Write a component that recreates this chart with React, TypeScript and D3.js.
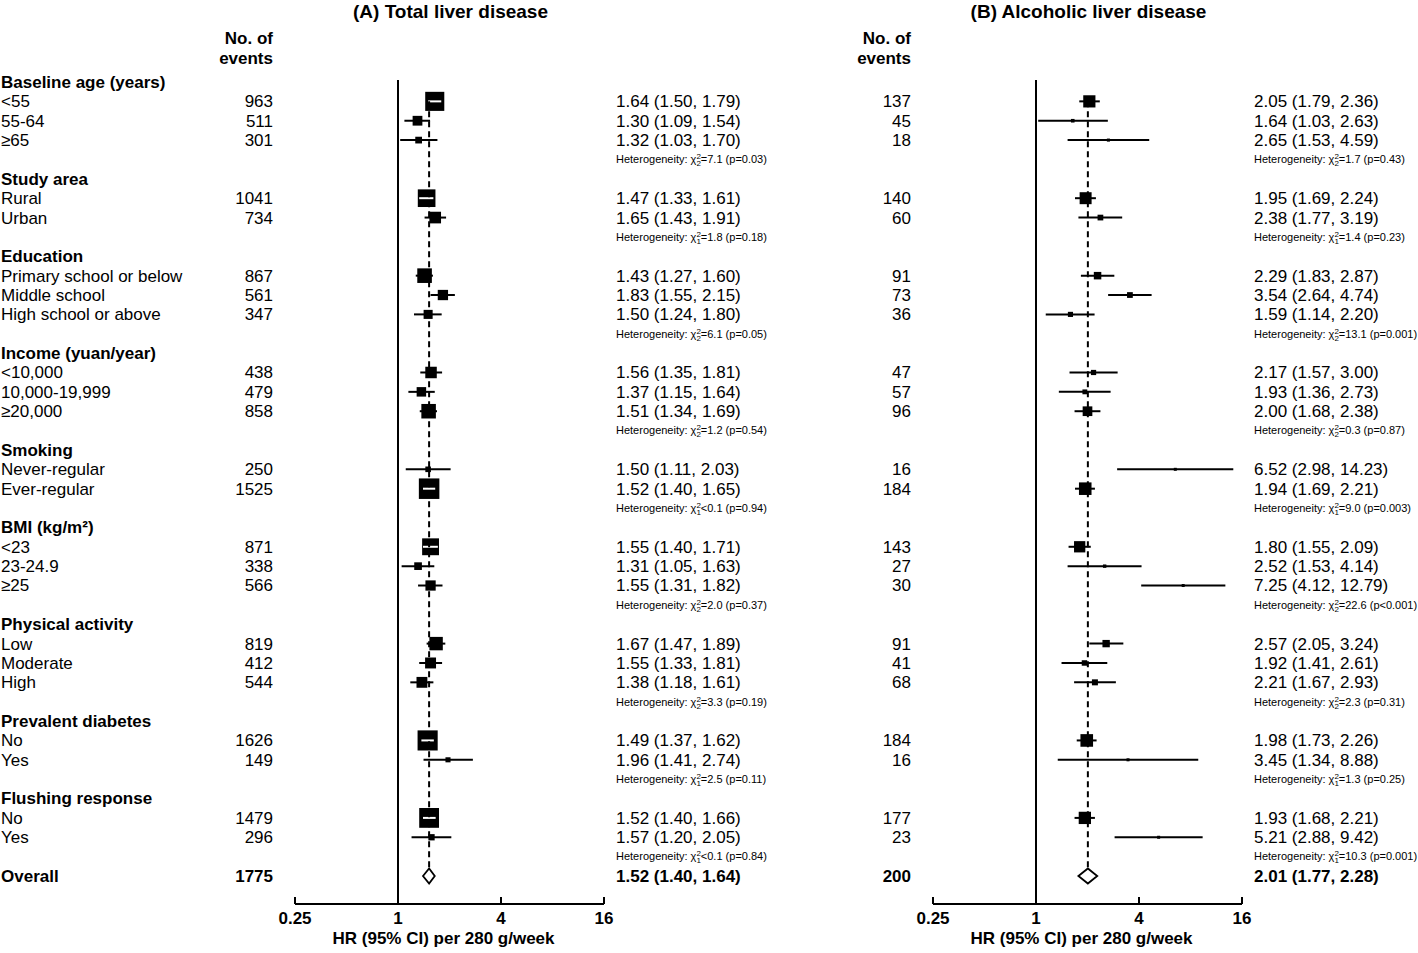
import React from "react";
import * as d3 from "d3";

const groups = [
  "Baseline age (years)",
  "Study area",
  "Education",
  "Income (yuan/year)",
  "Smoking",
  "BMI (kg/m²)",
  "Physical activity",
  "Prevalent diabetes",
  "Flushing response",
];

const subgroups = [
  ["<55", "55-64", "≥65"],
  ["Rural", "Urban"],
  ["Primary school or below", "Middle school", "High school or above"],
  ["<10,000", "10,000-19,999", "≥20,000"],
  ["Never-regular", "Ever-regular"],
  ["<23", "23-24.9", "≥25"],
  ["Low", "Moderate", "High"],
  ["No", "Yes"],
  ["No", "Yes"],
];

// Panel A: total liver disease
const eventsA = [[963, 511, 301], [1041, 734], [867, 561, 347], [438, 479, 858], [250, 1525], [871, 338, 566], [819, 412, 544], [1626, 149], [1479, 296]];
const hrA = [[1.64, 1.30, 1.32], [1.47, 1.65], [1.43, 1.83, 1.50], [1.56, 1.37, 1.51], [1.50, 1.52], [1.55, 1.31, 1.55], [1.67, 1.55, 1.38], [1.49, 1.96], [1.52, 1.57]];
const loA = [[1.50, 1.09, 1.03], [1.33, 1.43], [1.27, 1.55, 1.24], [1.35, 1.15, 1.34], [1.11, 1.40], [1.40, 1.05, 1.31], [1.47, 1.33, 1.18], [1.37, 1.41], [1.40, 1.20]];
const hiA = [[1.79, 1.54, 1.70], [1.61, 1.91], [1.60, 2.15, 1.80], [1.81, 1.64, 1.69], [2.03, 1.65], [1.71, 1.63, 1.82], [1.89, 1.81, 1.61], [1.62, 2.74], [1.66, 2.05]];
const hetDfA = ["2", "1", "2", "2", "1", "2", "2", "1", "1"];
const hetChiA = ["=7.1", "=1.8", "=6.1", "=1.2", "<0.1", "=2.0", "=3.3", "=2.5", "<0.1"];
const hetPA = ["(p=0.03)", "(p=0.18)", "(p=0.05)", "(p=0.54)", "(p=0.94)", "(p=0.37)", "(p=0.19)", "(p=0.11)", "(p=0.84)"];
const overallA = { events: 1775, hr: 1.52, lo: 1.40, hi: 1.64 };

// Panel B: alcoholic liver disease
const eventsB = [[137, 45, 18], [140, 60], [91, 73, 36], [47, 57, 96], [16, 184], [143, 27, 30], [91, 41, 68], [184, 16], [177, 23]];
const hrB = [[2.05, 1.64, 2.65], [1.95, 2.38], [2.29, 3.54, 1.59], [2.17, 1.93, 2.00], [6.52, 1.94], [1.80, 2.52, 7.25], [2.57, 1.92, 2.21], [1.98, 3.45], [1.93, 5.21]];
const loB = [[1.79, 1.03, 1.53], [1.69, 1.77], [1.83, 2.64, 1.14], [1.57, 1.36, 1.68], [2.98, 1.69], [1.55, 1.53, 4.12], [2.05, 1.41, 1.67], [1.73, 1.34], [1.68, 2.88]];
const hiB = [[2.36, 2.63, 4.59], [2.24, 3.19], [2.87, 4.74, 2.20], [3.00, 2.73, 2.38], [14.23, 2.21], [2.09, 4.14, 12.79], [3.24, 2.61, 2.93], [2.26, 8.88], [2.21, 9.42]];
const hetDfB = ["2", "1", "2", "2", "1", "2", "2", "1", "1"];
const hetChiB = ["=1.7", "=1.4", "=13.1", "=0.3", "=9.0", "=22.6", "=2.3", "=1.3", "=10.3"];
const hetPB = ["(p=0.43)", "(p=0.23)", "(p=0.001)", "(p=0.87)", "(p=0.003)", "(p<0.001)", "(p=0.31)", "(p=0.25)", "(p=0.001)"];
const overallB = { events: 200, hr: 2.01, lo: 1.77, hi: 2.28 };

const xTicks = [0.25, 1, 4, 16];
const panelTitles = ["(A) Total liver disease", "(B) Alcoholic liver disease"];
const axisTitle = "HR (95% CI) per 280 g/week";

const FONT = "'Liberation Sans', Arial, Helvetica, sans-serif";
const W = 1418;
const H = 953;

type Row =
  | { kind: "header"; i: number; label: string }
  | { kind: "item"; i: number; g: number; s: number; label: string }
  | { kind: "het"; i: number; g: number }
  | { kind: "overall"; i: number };

function buildRows(): Row[] {
  const rows: Row[] = [];
  let i = 0;
  groups.forEach((gName, g) => {
    rows.push({ kind: "header", i: i++, label: gName });
    subgroups[g].forEach((s, si) => rows.push({ kind: "item", i: i++, g, s: si, label: s }));
    rows.push({ kind: "het", i: i++, g });
  });
  rows.push({ kind: "overall", i: i++ });
  return rows;
}

const fmt = (v: number) => v.toFixed(2);

interface PanelData {
  events: number[][];
  hr: number[][];
  lo: number[][];
  hi: number[][];
  df: string[];
  chi: string[];
  p: string[];
  overall: { events: number; hr: number; lo: number; hi: number };
}

const panels: PanelData[] = [
  { events: eventsA, hr: hrA, lo: loA, hi: hiA, df: hetDfA, chi: hetChiA, p: hetPA, overall: overallA },
  { events: eventsB, hr: hrB, lo: loB, hi: hiB, df: hetDfB, chi: hetChiB, p: hetPB, overall: overallB },
];

const layout = [
  { countX: 273, x0: 295, x1: 604, textX: 616 },
  { countX: 911, x0: 933, x1: 1242, textX: 1254 },
];

export default function App() {
  const rows = buildRows();
  const nRows = rows.length;
  const y = d3.scaleLinear().domain([0, nRows - 1]).range([82, 876]);
  const axisY = 904;

  const renderPanel = (pi: number) => {
    const P = panels[pi];
    const L = layout[pi];
    const x = d3.scaleLog().base(2).domain([0.25, 16]).range([L.x0, L.x1]);
    const firstItemY = y(1);
    const ov = P.overall;
    const ovY = y(nRows - 1);
    const dH = 7.5;
    const els: React.ReactNode[] = [];

    // reference line at 1
    els.push(<line key="ref" x1={x(1)} x2={x(1)} y1={80} y2={axisY} stroke="#000" strokeWidth={2} />);

    rows.forEach((r, k) => {
      const yy = y(r.i);
      if (r.kind === "header" && pi === 0) {
        els.push(
          <text key={"h" + k} x={1} y={yy} dy="0.35em" fontWeight="bold" fontSize={17}>
            {r.label}
          </text>
        );
      }
      if (r.kind === "item") {
        if (pi === 0) {
          els.push(
            <text key={"l" + k} x={1} y={yy} dy="0.35em" fontSize={17}>
              {r.label}
            </text>
          );
        }
        const ev = P.events[r.g][r.s];
        const hr = P.hr[r.g][r.s];
        const lo = P.lo[r.g][r.s];
        const hi = P.hi[r.g][r.s];
        const se = (Math.log(hi) - Math.log(lo)) / (2 * 1.96);
        const size = Math.max(3, 0.86 / se);
        const cx = x(hr);
        const bx0 = cx - size / 2;
        const bx1 = cx + size / 2;
        const lx0 = x(Math.max(lo, 0.25));
        const lx1 = x(Math.min(hi, 16));
        const inside = lx0 >= bx0 && lx1 <= bx1;
        els.push(
          <text key={"c" + k} x={L.countX} y={yy} dy="0.35em" fontSize={17} textAnchor="end">
            {ev}
          </text>
        );
        if (!inside) {
          els.push(<line key={"ci" + k} x1={lx0} x2={lx1} y1={yy} y2={yy} stroke="#000" strokeWidth={2} />);
        }
        els.push(<rect key={"b" + k} x={bx0} y={yy - size / 2} width={size} height={size} fill="#000" />);
        if (inside) {
          els.push(<line key={"w" + k} x1={lx0} x2={lx1} y1={yy} y2={yy} stroke="#fff" strokeWidth={2} />);
        }
        els.push(
          <text key={"t" + k} x={L.textX} y={yy} dy="0.35em" fontSize={17}>
            {`${fmt(hr)} (${fmt(lo)}, ${fmt(hi)})`}
          </text>
        );
      }
      if (r.kind === "het") {
        els.push(
          <text key={"het" + k} x={L.textX} y={yy} dy="0.35em" fontSize={11}>
            {"Heterogeneity: χ"}
            <tspan fontSize={8} dy={-4}>2</tspan>
            <tspan fontSize={8} dx={-4.45} dy={7}>{P.df[r.g]}</tspan>
            <tspan fontSize={11} dy={-3}>{`${P.chi[r.g]} ${P.p[r.g]}`}</tspan>
          </text>
        );
      }
      if (r.kind === "overall") {
        if (pi === 0) {
          els.push(
            <text key="ol" x={1} y={yy} dy="0.35em" fontSize={17} fontWeight="bold">
              Overall
            </text>
          );
        }
        els.push(
          <text key="oc" x={L.countX} y={yy} dy="0.35em" fontSize={17} fontWeight="bold" textAnchor="end">
            {ov.events}
          </text>
        );
        els.push(
          <text key="ot" x={L.textX} y={yy} dy="0.35em" fontSize={17} fontWeight="bold">
            {`${fmt(ov.hr)} (${fmt(ov.lo)}, ${fmt(ov.hi)})`}
          </text>
        );
      }
    });

    // dashed overall line
    els.push(
      <line
        key="dash"
        x1={x(ov.hr)}
        x2={x(ov.hr)}
        y1={firstItemY}
        y2={ovY - dH}
        stroke="#000"
        strokeWidth={2}
        strokeDasharray="6,4"
      />
    );
    // diamond
    const dpath = `M${x(ov.lo)},${ovY} L${x(ov.hr)},${ovY - dH} L${x(ov.hi)},${ovY} L${x(ov.hr)},${ovY + dH} Z`;
    els.push(<path key="dia" d={dpath} fill="#fff" stroke="#000" strokeWidth={1.8} />);

    // axis
    els.push(<line key="ax" x1={L.x0} x2={L.x1} y1={axisY} y2={axisY} stroke="#000" strokeWidth={2.2} />);
    xTicks.forEach((t) => {
      els.push(<line key={"tk" + t} x1={x(t)} x2={x(t)} y1={axisY} y2={axisY - 7} stroke="#000" strokeWidth={2} />);
      els.push(
        <text key={"tl" + t} x={x(t)} y={918} dy="0.35em" fontSize={17} fontWeight="bold" textAnchor="middle">
          {String(t)}
        </text>
      );
    });
    const mid = (L.x0 + L.x1) / 2;
    els.push(
      <text key="axt" x={mid - 6} y={938} dy="0.35em" fontSize={17} fontWeight="bold" textAnchor="middle">
        {axisTitle}
      </text>
    );
    // headers
    els.push(
      <text key="ttl" x={mid + 1} y={18} fontSize={19} fontWeight="bold" textAnchor="middle">
        {panelTitles[pi]}
      </text>
    );
    els.push(
      <text key="ne1" x={L.countX} y={38} dy="0.35em" fontSize={17} fontWeight="bold" textAnchor="end">
        No. of
      </text>
    );
    els.push(
      <text key="ne2" x={L.countX} y={58} dy="0.35em" fontSize={17} fontWeight="bold" textAnchor="end">
        events
      </text>
    );
    return <g key={"p" + pi}>{els}</g>;
  };

  return (
    <svg
      width={W}
      height={H}
      style={{ position: "absolute", left: 0, top: 0, background: "#fff" }}
      fontFamily={FONT}
      fill="#000"
    >
      <rect width={W} height={H} fill="#fff" />
      {renderPanel(0)}
      {renderPanel(1)}
    </svg>
  );
}
